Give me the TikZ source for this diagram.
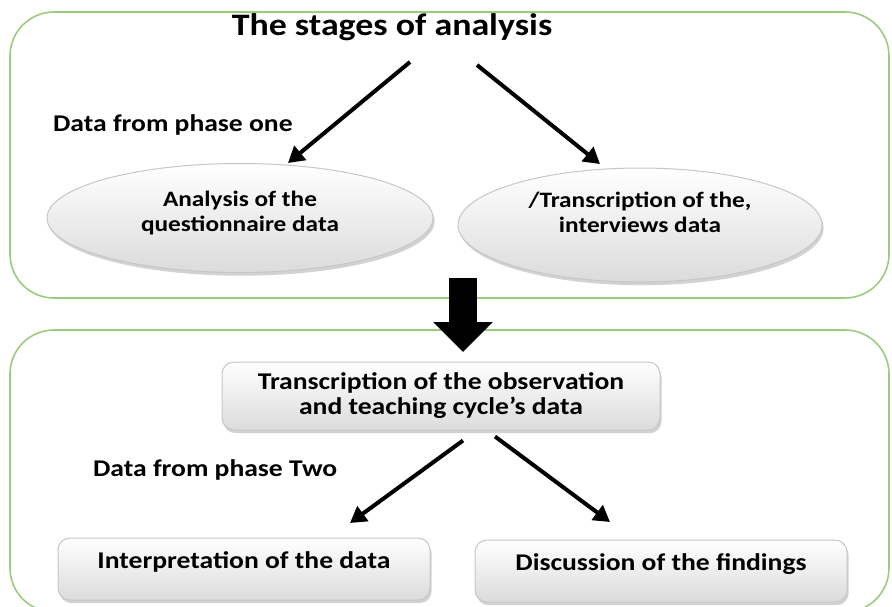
\documentclass[tikz,border=0pt]{standalone}
\usepackage{fontspec}
\setmainfont{Carlito}[FakeStretch=1.15]
\usetikzlibrary{arrows.meta,shadows,shapes.geometric}
\definecolor{panelgreen}{RGB}{155,203,125}
\begin{document}
\begin{tikzpicture}[x=0.5pt,y=-0.5pt]
\tikzset{panel/.style={draw=panelgreen, line width=0.8pt, rounded corners=22pt}}
\tikzset{txt/.style={font=\bfseries\fontsize{12}{12.5}\selectfont, align=center}}
\tikzset{stage/.style={txt, draw=gray!45, line width=0.5pt, top color=white, bottom color=gray!28,
    drop shadow={shadow xshift=0.8pt, shadow yshift=-1.6pt, fill=gray!70}}}
\tikzset{oval/.style={stage, ellipse, inner sep=0pt, font=\bfseries\fontsize{11}{12.5}\selectfont}}
\tikzset{box/.style={stage, rectangle, rounded corners=6pt}}
\tikzset{link/.style={line width=2pt, -{Triangle[length=8pt,width=9pt]}}}
\useasboundingbox (0,0) rectangle (892,606);
\draw[panel] (10,12) rectangle (889,298);
\draw[panel] (10,330) rectangle (889,612);
\node[font=\bfseries\fontsize{15.6}{18}\selectfont] (title) at (392,27) {The stages of analysis};
\node[txt, anchor=west] (phase1) at (46,125) {Data from phase one};
\node[oval, minimum width=193pt, minimum height=54.5pt, text depth=6.5pt] (quest) at (240,218)
    {Analysis of the\\questionnaire data};
\node[oval, minimum width=182pt, minimum height=57pt, text depth=12.5pt] (interv) at (640,225)
    {/Transcription of the,\\interviews data};
\coordinate (s1) at (410,62);
\coordinate (s2) at (477,65);
\draw[link] (s1) -- (288,163) coordinate (e1);
\draw[link] (s2) -- (600,164) coordinate (e2);
% thick arrow between the two phases
\coordinate (b1) at (463,278);
\coordinate (b2) at (463,352);
\draw[line width=14pt, -{Triangle[length=15pt,width=29pt]}] (b1) -- (b2);
\node[box, minimum width=219pt, minimum height=34pt] (observ) at (441,396)
    {Transcription of the observation\\and teaching cycle's data};
\node[txt, anchor=west] (phase2) at (86,470) {Data from phase Two};
\node[box, minimum width=186pt, minimum height=31pt] (interp) at (244,569)
    {\raisebox{9pt}{Interpretation of the data}};
\node[box, minimum width=186pt, minimum height=31pt] (discuss) at (661,571)
    {\raisebox{9pt}{Discussion of the findings}};
\draw[link] (observ.south) ++(22,10) coordinate (s3) -- (350,523);
\draw[link] (observ.south) ++(54,6) coordinate (s4) -- (610,522);
\end{tikzpicture}
\end{document}
